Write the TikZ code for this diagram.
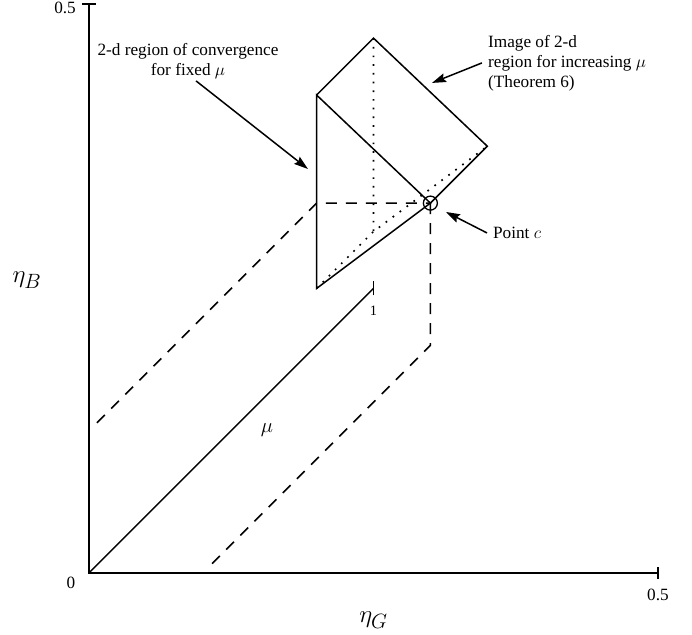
\documentclass[tikz,border=0pt]{standalone}
\usepackage{fontspec}
\setmainfont{Liberation Serif}
\usetikzlibrary{arrows.meta,positioning,calc}
\tikzset{
  >={Stealth[length=14bp,width=9bp,inset=2bp]},
  axisline/.style={line width=1.7bp},
  edgeline/.style={line width=1.5bp},
  hidden/.style={line width=1.7bp,dash pattern=on 1.7bp off 7bp},
  proj/.style={line width=1.5bp,dash pattern=on 11bp off 9bp},
  callout/.style={->,line width=1.5bp},
  lbl/.style={font=\fontsize{17.28}{20}\selectfont,inner sep=0pt},
  smalllbl/.style={font=\fontsize{14.4}{16}\selectfont,inner sep=0pt},
  mathlbl/.style={font=\fontsize{20.74}{24}\selectfont,inner sep=0pt},
  axislbl/.style={font=\fontsize{24.88}{28}\selectfont,inner sep=0pt},
}
\begin{document}
\begin{tikzpicture}[x=1138bp,y=1138bp]
  \useasboundingbox (-0.0782,-0.0545) rectangle (0.5299,0.5035);
  % axes
  \coordinate (o) at (0,0);
  \coordinate (xend) at (0.5,0);
  \coordinate (yend) at (0,0.5);
  \draw[axisline] (yend) -- (o) -- (xend);
  \draw[axisline] ([xshift=-7bp]yend) -- ([xshift=7bp]yend);
  \draw[axisline] ([yshift=-6bp]xend) -- ([yshift=6bp]xend);
  \node[lbl,left=13bp of yend,yshift=-4bp] (ymax) {0.5};
  \node[lbl] (zero) at ([shift={(-18bp,-10bp)}]o) {0};
  \node[lbl,below=16bp of xend] (xmax) {0.5};
  \node[axislbl] (etaG) at (0.25,-0.0413) {$\eta_G$};
  \node[axislbl] (etaB) at (-0.0545,0.2575) {$\eta_B$};
  % mu line
  \coordinate (mu1) at (0.25,0.25);
  \draw[edgeline] (o) -- (mu1);
  \draw[edgeline] ([yshift=-7bp]mu1) -- ([yshift=7bp]mu1);
  \node[smalllbl,below=17bp of mu1] (one) {1};
  \node[mathlbl] (mulbl) at (0.1564,0.1257) {$\mu$};
  % region and its image
  \coordinate (ta) at (0.2,0.42);
  \coordinate (tb) at (0.2,0.25);
  \coordinate (tc) at (0.3,0.325);
  \coordinate (sa) at ($(ta)+(0.05,0.05)$);
  \coordinate (sb) at ($(tb)+(0.05,0.05)$);
  \coordinate (sc) at ($(tc)+(0.05,0.05)$);
  \draw[edgeline] (ta) -- (tb) -- (tc) -- cycle;
  \draw[edgeline] (ta) -- (sa) -- (sc) -- (tc);
  \draw[hidden] (sa) -- (sb) -- (sc);
  \draw[hidden] (tb) -- (sb);
  \draw[line width=1.3bp] (tc) circle (7bp);
  % projections of point c
  \coordinate (cl) at (tb |- tc);
  \coordinate (cd) at (0.3,0.2);
  \draw[proj] ($(cl)+(-0.193,-0.193)$) -- (cl) -- (tc);
  \draw[proj] (tc) -- (cd) -- ($(cd)+(-0.194,-0.194)$);
  % callouts
  \node[lbl,align=center] (regtxt) at (0.087,0.4499)
    {2-d region of convergence\\for fixed $\mu$};
  \coordinate (regtip) at (0.1924,0.3550);
  \draw[callout] ([shift={(8bp,-2bp)}]regtxt.south) -- (regtip);
  \node[lbl,align=left,anchor=west] (imgtxt) at (0.3506,0.4482)
    {Image of 2-d\\region for increasing $\mu$\\(Theorem 6)};
  \coordinate (imgtip) at (0.3014,0.4306);
  \draw[callout] ([xshift=-6bp]imgtxt.west) -- (imgtip);
  \node[lbl,anchor=west] (pttxt) at (0.355,0.2988) {Point $c$};
  \coordinate (pttip) at (0.3137,0.3172);
  \draw[callout] ([xshift=-6bp]pttxt.west) -- (pttip);
\end{tikzpicture}
\end{document}
